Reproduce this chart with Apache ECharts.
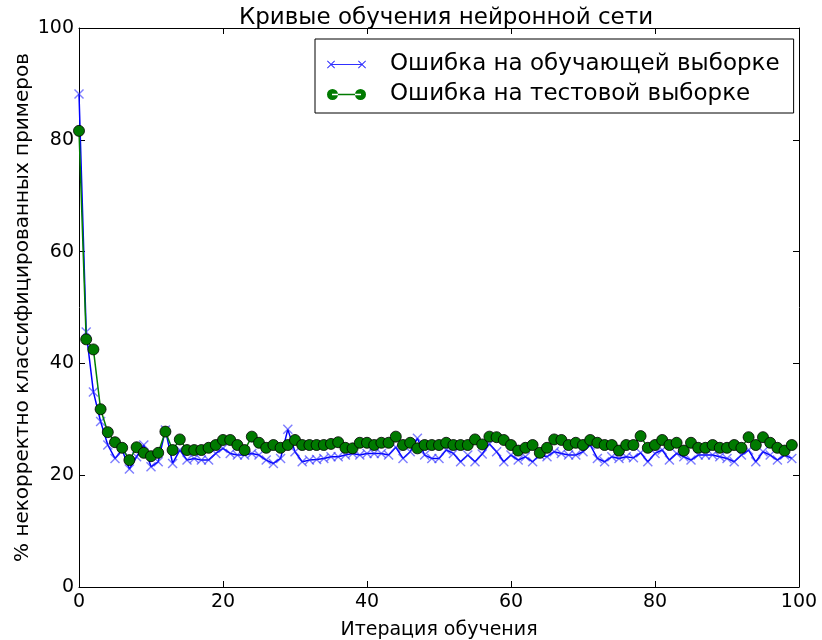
<!DOCTYPE html>
<html>
<head>
<meta charset="utf-8">
<script src="https://cdn.jsdelivr.net/npm/echarts@6/dist/echarts.min.js"></script>
<style>
  html, body { margin: 0; padding: 0; background: #fff; }
  #chart { width: 822px; height: 640px; }
</style>
</head>
<body>
<div id="chart"></div>
<script>
// error on training set, % per iteration 0..99
const trainErr = [
  88.2, 45.6, 34.9, 29.6, 25.4, 23.0, 24.5, 21.1, 23.3, 25.4,
  21.5, 22.4, 28.1, 22.1, 24.5, 22.7, 23.0, 22.7, 22.7, 23.9,
  24.8, 23.9, 23.6, 23.6, 23.9, 23.6, 22.7, 22.1, 23.0, 28.2,
  24.2, 22.4, 22.7, 22.8, 23.0, 23.3, 23.3, 23.6, 23.9, 23.6,
  23.9, 23.9, 23.9, 23.6, 25.0, 23.0, 24.2, 26.6, 23.6, 23.0,
  23.0, 24.5, 23.9, 22.4, 23.6, 22.4, 23.8, 25.6, 24.2, 22.4,
  23.6, 22.7, 23.3, 22.4, 23.6, 23.3, 24.2, 23.9, 23.6, 23.6,
  24.2, 25.4, 23.0, 22.4, 23.3, 23.0, 23.3, 23.1, 24.0, 22.4,
  23.9, 24.5, 22.7, 23.9, 23.3, 22.7, 23.6, 23.6, 23.6, 23.3,
  23.0, 22.4, 23.6, 24.5, 22.4, 24.2, 23.6, 22.7, 23.6, 23.0
];
// error on test set, %
const testErr = [
  81.6, 44.3, 42.5, 31.8, 27.7, 25.9, 24.9, 22.7, 25.0, 24.0,
  23.4, 24.0, 27.8, 24.5, 26.4, 24.5, 24.5, 24.5, 24.9, 25.4,
  26.3, 26.3, 25.4, 24.5, 26.9, 25.8, 24.9, 25.4, 24.9, 25.4,
  26.3, 25.4, 25.4, 25.4, 25.4, 25.6, 25.9, 24.9, 24.8, 25.8,
  25.8, 25.4, 25.8, 25.8, 26.9, 25.4, 25.8, 24.8, 25.4, 25.4,
  25.4, 25.8, 25.4, 25.4, 25.4, 26.4, 25.5, 26.9, 26.8, 26.3,
  25.4, 24.4, 24.9, 25.4, 24.0, 24.9, 26.4, 26.3, 25.4, 25.8,
  25.4, 26.3, 25.8, 25.4, 25.4, 24.4, 25.4, 25.4, 27.0, 24.9,
  25.4, 26.3, 25.4, 25.8, 24.4, 25.8, 24.9, 24.9, 25.4, 24.9,
  24.9, 25.4, 24.9, 26.8, 25.4, 26.8, 25.8, 24.9, 24.4, 25.4
];
const xTicks = [0, 20, 40, 60, 80, 100];
const yTicks = [0, 20, 40, 60, 80, 100];
const seriesNames = ['Ошибка на обучающей выборке', 'Ошибка на тестовой выборке'];

const font = 'DejaVu Sans';
const xMark = 'path://M0,1L1,0L5,4L9,0L10,1L6,5L10,9L9,10L5,6L1,10L0,9L4,5Z';
// legend icons: line with a marker at each end, like matplotlib
const iconTrain = 'path://M4,5.5L35,5.5L35,6.5L4,6.5Z' +
  'M0,2.7L0.7,2L4,5.3L7.3,2L8,2.7L4.7,6L8,9.3L7.3,10L4,6.7L0.7,10L0,9.3L3.3,6Z' +
  'M31,2.7L31.7,2L35,5.3L38.3,2L39,2.7L35.7,6L39,9.3L38.3,10L35,6.7L31.7,10L31,9.3L34.3,6Z';
const iconTest = 'path://M5,5.3L34,5.3L34,6.7L5,6.7Z' +
  'M0,6A5.5,5.5,0,1,0,11,6A5.5,5.5,0,1,0,0,6Z' +
  'M28,6A5.5,5.5,0,1,0,39,6A5.5,5.5,0,1,0,28,6Z';

const toPts = arr => arr.map((v, i) => [i, v]);

const chart = echarts.init(document.getElementById('chart'));

const baseAxis = {
  type: 'value',
  min: 0,
  max: 100,
  interval: 20,
  axisLine: { show: true, onZero: false, lineStyle: { color: '#000', width: 1 } },
  axisTick: { show: true, inside: true, length: 6, lineStyle: { color: '#000' } },
  splitLine: { show: false }
};

const option = {
  backgroundColor: '#fff',
  animation: false,
  title: {
    text: 'Кривые обучения нейронной сети',
    left: 441,
    top: 2,
    textAlign: 'center',
    textStyle: { fontFamily: font, fontSize: 23, fontWeight: 'normal', color: '#000' }
  },
  legend: {
    left: 315,
    top: 39,
    orient: 'vertical',
    borderColor: '#000',
    borderWidth: 1,
    padding: [14, 14, 7, 12],
    itemGap: 7,
    itemWidth: 39,
    itemHeight: 12,
    textStyle: { fontFamily: font, fontSize: 23, color: '#000', padding: [0, 0, 0, 19] },
    data: [
      { name: seriesNames[0], icon: iconTrain, itemStyle: { color: '#3030ff', borderWidth: 0 } },
      { name: seriesNames[1], icon: iconTest, itemStyle: { color: '#007a00', borderWidth: 0 } }
    ]
  },
  grid: { left: 79, right: 23, top: 28, bottom: 53, outerBoundsMode: 'none' },
  xAxis: [
    Object.assign({}, baseAxis, {
      position: 'bottom',
      name: 'Итерация обучения',
      nameLocation: 'middle',
      nameGap: 34,
      nameMoveOverlap: false,
      nameTextStyle: { fontFamily: font, fontSize: 19, color: '#000' },
      axisLabel: { fontFamily: font, fontSize: 19, color: '#000', margin: 6,
        formatter: v => xTicks.includes(v) ? String(v) : '' }
    }),
    Object.assign({}, baseAxis, { position: 'top', axisLabel: { show: false } })
  ],
  yAxis: [
    Object.assign({}, baseAxis, {
      position: 'left',
      name: '% некорректно классифицированных примеров',
      nameLocation: 'middle',
      nameGap: 46,
      nameMoveOverlap: false,
      nameTextStyle: { fontFamily: font, fontSize: 20, color: '#000' },
      axisLabel: { fontFamily: font, fontSize: 19, color: '#000', margin: 5,
        formatter: v => yTicks.includes(v) ? String(v) : '' }
    }),
    Object.assign({}, baseAxis, { position: 'right', axisLabel: { show: false } })
  ],
  series: [
    {
      name: seriesNames[0],
      type: 'line',
      data: toPts(trainErr),
      symbol: xMark,
      symbolSize: 10,
      showAllSymbol: true,
      lineStyle: { color: '#0000ff', width: 1.5 },
      itemStyle: { color: 'rgba(40,40,255,0.6)' },
      z: 2
    },
    {
      name: seriesNames[1],
      type: 'line',
      data: toPts(testErr),
      symbol: 'circle',
      symbolSize: 11,
      showAllSymbol: true,
      lineStyle: { color: '#008000', width: 1.5 },
      itemStyle: { color: '#007a00', borderColor: '#000', borderWidth: 0.8 },
      z: 3
    }
  ]
};

chart.setOption(option);
</script>
</body>
</html>
